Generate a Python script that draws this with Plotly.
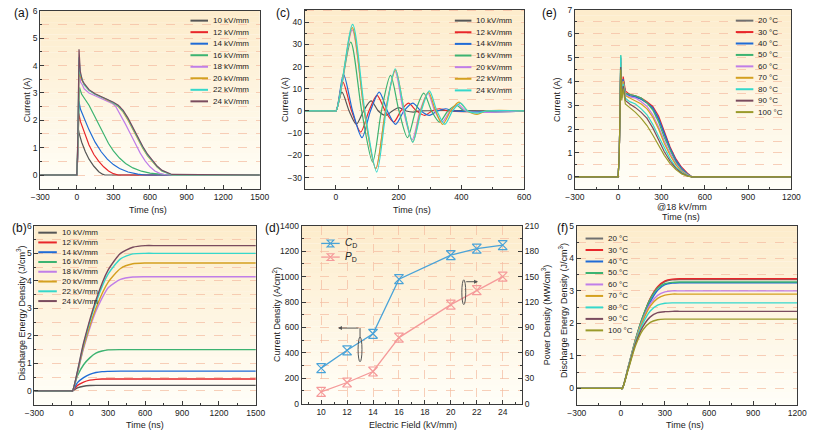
import plotly.graph_objects as go

W, H = 817, 437

# ---------------- DATA ----------------
field_names = ["10 kV/mm", "12 kV/mm", "14 kV/mm", "16 kV/mm", "18 kV/mm", "20 kV/mm", "22 kV/mm", "24 kV/mm"]
field_colors = ["#555555", "#e8262a", "#1f6bd6", "#3cb371", "#c07ee8", "#d4a020", "#35d8cb", "#7a4b5e"]

# (a) discharge current vs time
ta10 = [-300, 0, 5, 12, 20, 40, 70, 100, 140, 180, 210, 230, 1500]
ia10 = [0, 0, 0.4, 1.7, 1.5, 1.2, 0.85, 0.58, 0.32, 0.12, 0.03, 0, 0]
ta12 = [-300, 0, 6, 16, 30, 60, 100, 140, 180, 220, 260, 300, 340, 1500]
ia12 = [0, 0, 0.5, 2.25, 1.95, 1.55, 1.1, 0.75, 0.5, 0.3, 0.15, 0.05, 0, 0]
ta14 = [-300, 0, 6, 17, 30, 60, 100, 150, 200, 250, 300, 350, 420, 500, 560, 1500]
ia14 = [0, 0, 0.6, 2.7, 2.4, 2.05, 1.65, 1.2, 0.85, 0.58, 0.38, 0.24, 0.11, 0.03, 0, 0]
ta16 = [-300, 0, 8, 22, 40, 70, 100, 140, 180, 220, 260, 300, 350, 400, 460, 530, 600, 680, 760, 1500]
ia16 = [0, 0, 0.8, 3.2, 2.95, 2.75, 2.55, 2.2, 1.85, 1.5, 1.15, 0.88, 0.62, 0.42, 0.26, 0.14, 0.07, 0.03, 0, 0]
ta18 = [-300, 0, 8, 20, 30, 45, 60, 100, 150, 200, 250, 290, 320, 360, 400, 440, 480, 520, 560, 600, 640, 680, 720, 760, 1500]
ia18 = [0, 0, 1.0, 4.2, 3.4, 3.3, 3.15, 3.0, 2.9, 2.8, 2.72, 2.62, 2.5, 2.2, 1.85, 1.5, 1.15, 0.8, 0.52, 0.3, 0.15, 0.06, 0.02, 0, 0]
ta2x = [-300, 0, 8, 18, 28, 45, 60, 100, 150, 200, 250, 300, 340, 380, 420, 460, 500, 540, 580, 620, 660, 700, 740, 780, 1500]
ia20 = [0, 0, 1.1, 3.8, 3.6, 3.4, 3.3, 3.1, 2.95, 2.85, 2.75, 2.62, 2.5, 2.3, 2.0, 1.65, 1.3, 0.98, 0.7, 0.47, 0.28, 0.14, 0.06, 0, 0]
ia22 = [0, 0, 1.2, 4.3, 3.7, 3.45, 3.3, 3.1, 2.95, 2.85, 2.76, 2.63, 2.52, 2.33, 2.05, 1.7, 1.35, 1.02, 0.73, 0.5, 0.3, 0.15, 0.07, 0, 0]
ia24 = [0, 0, 1.3, 4.6, 3.8, 3.45, 3.35, 3.12, 2.97, 2.87, 2.78, 2.66, 2.55, 2.36, 2.08, 1.73, 1.38, 1.05, 0.76, 0.52, 0.32, 0.17, 0.08, 0.02, 0]

# (b) discharge energy density vs time
tb_low = [-300, 0, 10, 50, 100, 150, 200, 250, 300, 400, 1500]
eb10 = [0, 0, 0, 0.11, 0.17, 0.195, 0.2, 0.2, 0.2, 0.2, 0.2]
eb12 = [0, 0, 0, 0.2, 0.32, 0.39, 0.42, 0.43, 0.43, 0.43, 0.43]
eb14 = [0, 0, 0, 0.3, 0.48, 0.6, 0.67, 0.7, 0.71, 0.72, 0.72]
eb16 = [0, 0, 0, 0.55, 0.95, 1.2, 1.37, 1.45, 1.49, 1.5, 1.5]
tb_high = [-300, 0, 10, 100, 200, 300, 400, 500, 600, 700, 1500]
eb18 = [0, 0, 0, 1.55, 2.9, 3.75, 4.05, 4.14, 4.15, 4.15, 4.15]
eb20 = [0, 0, 0, 1.6, 3.0, 3.95, 4.45, 4.62, 4.65, 4.65, 4.65]
eb22 = [0, 0, 0, 1.7, 3.2, 4.25, 4.8, 4.98, 5.0, 5.0, 5.0]
eb24 = [0, 0, 0, 1.75, 3.3, 4.4, 5.0, 5.22, 5.28, 5.28, 5.28]

# (c) oscillating discharge current (18 kV/mm not shown)
c_names = ["10 kV/mm", "12 kV/mm", "14 kV/mm", "16 kV/mm", "20 kV/mm", "22 kV/mm", "24 kV/mm"]
c_colors = ["#555555", "#e8262a", "#1f6bd6", "#3cb371", "#c07ee8", "#d4a020", "#35d8cb"]
tc10 = [-100, -10, 0, 19, 42, 65, 88, 112, 135, 158, 180, 200, 224, 247, 270, 600]
ic10 = [0, 0, 0, 8.5, 0, -6, 0, 4.5, 0, -2, 0, 1.5, 0, -0.5, 0, 0]
tc12 = [-100, -10, 0, 22, 50, 79, 105, 131, 157, 184, 207, 231, 257, 283, 306, 330, 355, 600]
ic12 = [0, 0, 0, 13, 0, -9.5, 0, 7, 0, -5, 0, 3.5, 0, -2, 0, 1, 0, 0]
tc14 = [-100, -10, 0, 24, 53, 83, 110, 138, 164, 190, 217, 245, 271, 298, 324, 350, 375, 600]
ic14 = [0, 0, 0, 16.5, 0, -12, 0, 8.5, 0, -6, 0, 3.5, 0, -2, 0, 1, 0, 0]
tc16 = [-100, -10, 0, 47, 82, 117, 145, 174, 201, 228, 254, 280, 305, 330, 357, 385, 410, 600]
ic16 = [0, 0, 0, 31, 0, -23, 0, 16, 0, -12, 0, 8, 0, -5, 0, 2.5, 0, 0]
tc20 = [-100, -10, 0, 52, 90, 127, 158, 188, 215, 243, 268, 293, 315, 338, 364, 390, 415, 600]
ic20 = [0, 0, 0, 36.5, 0, -26, 0, 18, 0, -13, 0, 8, 0, -5, 0, 3, 0, 0]
tc22 = [-100, -10, 0, 52, 90, 127, 158, 190, 218, 245, 270, 295, 318, 340, 366, 392, 420, 450, 480, 600]
ic22 = [0, 0, 0, 37.5, 0, -26, 0, 18.5, 0, -14, 0, 8.5, 0, -6, 0, 4, 0, -1.5, 0, 0]
tc24 = [-100, -10, 0, 53, 92, 130, 160, 189, 218, 245, 272, 298, 322, 347, 372, 397, 420, 450, 480, 600]
ic24 = [0, 0, 0, 39, 0, -27.5, 0, 19, 0, -14, 0, 9, 0, -6, 0, 3.5, 0, -1, 0, 0]

# (d) current density and power density vs electric field
field_kv = [10, 12, 14, 16, 20, 22, 24]
current_density = [280, 420, 550, 980, 1170, 1220, 1248]
power_density = [14, 25, 38, 78, 117, 134, 150]

# (e) discharge current at 18 kV/mm for different temperatures
temp_names = ["20 \u00b0C", "30 \u00b0C", "40 \u00b0C", "50 \u00b0C", "60 \u00b0C", "70 \u00b0C", "80 \u00b0C", "90 \u00b0C", "100 \u00b0C"]
temp_colors = ["#707070", "#e8262a", "#1f6bd6", "#3cb371", "#c07ee8", "#d4a020", "#35d8cb", "#7a4b5e", "#9a9a2a"]
te = [-300, 0, 8, 18, 25, 35, 50, 80, 120, 160, 200, 240, 280, 320, 360, 400, 440, 480, 510, 1200]
ie20 = [0, 0, 1.0, 5.0, 3.6, 4.1, 3.5, 3.4, 3.35, 3.25, 3.1, 2.85, 2.4, 1.75, 1.15, 0.65, 0.3, 0.1, 0, 0]
ie30 = [0, 0, 1.0, 4.8, 3.5, 4.2, 3.6, 3.45, 3.4, 3.3, 3.15, 2.95, 2.55, 1.9, 1.25, 0.75, 0.4, 0.15, 0, 0]
ie40 = [0, 0, 1.0, 4.7, 3.5, 4.1, 3.5, 3.4, 3.35, 3.25, 3.1, 2.9, 2.45, 1.8, 1.2, 0.7, 0.35, 0.12, 0, 0]
ie50 = [0, 0, 1.0, 5.1, 3.6, 4.0, 3.5, 3.45, 3.4, 3.3, 3.1, 2.8, 2.3, 1.65, 1.1, 0.6, 0.3, 0.1, 0, 0]
ie60 = [0, 0, 1.0, 4.9, 3.5, 4.0, 3.45, 3.35, 3.3, 3.15, 2.95, 2.6, 2.1, 1.5, 1.0, 0.55, 0.25, 0.08, 0, 0]
ie70 = [0, 0, 1.0, 4.8, 3.4, 4.0, 3.4, 3.3, 3.2, 3.05, 2.85, 2.5, 2.0, 1.4, 0.9, 0.5, 0.22, 0.06, 0, 0]
ie80 = [0, 0, 1.0, 5.1, 3.4, 3.9, 3.3, 3.15, 3.05, 2.85, 2.6, 2.2, 1.7, 1.2, 0.75, 0.4, 0.18, 0.05, 0, 0]
ie90 = [0, 0, 1.0, 4.6, 3.3, 3.8, 3.2, 3.05, 2.9, 2.7, 2.45, 2.05, 1.55, 1.05, 0.65, 0.35, 0.15, 0.04, 0, 0]
ie100 = [0, 0, 1.0, 4.5, 3.2, 3.7, 3.05, 2.9, 2.7, 2.45, 2.15, 1.75, 1.3, 0.9, 0.55, 0.3, 0.12, 0.03, 0, 0]

# (f) discharge energy density for different temperatures
tf = [-300, 0, 10, 50, 100, 150, 200, 250, 300, 350, 400, 500, 1200]
ef20 = [0, 0, 0, 0.65, 1.5, 2.2, 2.75, 3.1, 3.28, 3.34, 3.35, 3.35, 3.35]
ef30 = [0, 0, 0, 0.65, 1.5, 2.2, 2.77, 3.13, 3.31, 3.36, 3.37, 3.37, 3.37]
ef40 = [0, 0, 0, 0.63, 1.45, 2.12, 2.66, 3.02, 3.19, 3.24, 3.25, 3.25, 3.25]
ef50 = [0, 0, 0, 0.66, 1.52, 2.22, 2.75, 3.08, 3.22, 3.26, 3.27, 3.27, 3.27]
ef60 = [0, 0, 0, 0.64, 1.47, 2.12, 2.6, 2.86, 2.97, 3.0, 3.0, 3.0, 3.0]
ef70 = [0, 0, 0, 0.63, 1.45, 2.08, 2.53, 2.77, 2.87, 2.9, 2.9, 2.9, 2.9]
ef80 = [0, 0, 0, 0.62, 1.42, 2.0, 2.38, 2.56, 2.62, 2.63, 2.63, 2.63, 2.63]
ef90 = [0, 0, 0, 0.6, 1.38, 1.9, 2.2, 2.33, 2.36, 2.37, 2.37, 2.37, 2.37]
ef100 = [0, 0, 0, 0.58, 1.32, 1.8, 2.03, 2.11, 2.13, 2.13, 2.13, 2.13, 2.13]

# ---------------- FIGURE ----------------
FONT = "Arial, Liberation Sans, sans-serif"
AXC = "#3a3a3a"
TXT = "#222222"
GRIDC = "rgba(244,186,160,0.7)"
TICKSZ = 8.5
TITLESZ = 9
LEGSZ = 8

def px(x):
    return x / W

def py(y):
    return 1 - y / H

fig = go.Figure()

def line(x, y, color, xa, ya, shape="linear", width=1.2, smoothing=0.6):
    fig.add_trace(go.Scatter(x=x, y=y, mode="lines", xaxis=xa, yaxis=ya, showlegend=False,
                             line=dict(color=color, width=width, shape=shape, smoothing=smoothing)))

# (a)
for (t, i), c in zip([(ta10, ia10), (ta12, ia12), (ta14, ia14), (ta16, ia16), (ta18, ia18),
                      (ta2x, ia20), (ta2x, ia22), (ta2x, ia24)], field_colors):
    line(t, i, c, "x", "y")
# (b)
for (t, e), c in zip([(tb_low, eb10), (tb_low, eb12), (tb_low, eb14), (tb_low, eb16), (tb_high, eb18),
                      (tb_high, eb20), (tb_high, eb22), (tb_high, eb24)], field_colors):
    line(t, e, c, "x2", "y2", shape="spline", width=1.4)
# (c)
for (t, i), c in zip([(tc10, ic10), (tc12, ic12), (tc14, ic14), (tc16, ic16), (tc20, ic20),
                      (tc22, ic22), (tc24, ic24)], c_colors):
    line(t, i, c, "x3", "y3", shape="spline", width=1.2, smoothing=0.8)
# (d)
fig.add_trace(go.Scatter(x=field_kv, y=current_density, mode="lines+markers", xaxis="x4", yaxis="y4",
                         showlegend=False, line=dict(color="#4aa3d8", width=1.3),
                         marker=dict(symbol="hourglass-open", size=9, color="#4aa3d8", line=dict(width=1.2))))
fig.add_trace(go.Scatter(x=field_kv, y=power_density, mode="lines+markers", xaxis="x4", yaxis="y7",
                         showlegend=False, line=dict(color="#f59a9a", width=1.3),
                         marker=dict(symbol="hourglass-open", size=9, color="#f59a9a", line=dict(width=1.2))))
# (e)
for i, c in zip([ie20, ie30, ie40, ie50, ie60, ie70, ie80, ie90, ie100], temp_colors):
    line(te, i, c, "x5", "y5")
# (f)
for e, c in zip([ef20, ef30, ef40, ef50, ef60, ef70, ef80, ef90, ef100], temp_colors):
    line(tf, e, c, "x6", "y6", shape="spline", width=1.4)

# ---------------- AXES ----------------
def xax(dom, rng, dtick, minor, anchor, tick0=None):
    d = dict(domain=[px(dom[0]), px(dom[1])], range=rng, dtick=dtick, anchor=anchor,
             showline=True, linecolor=AXC, linewidth=1, mirror=True, ticks="inside", ticklen=4,
             tickcolor=AXC, tickfont=dict(size=TICKSZ, color=TXT, family=FONT), zeroline=False,
             showgrid=False, minor=dict(dtick=minor, ticks="inside", ticklen=2, tickcolor=AXC))
    if tick0 is not None:
        d["tick0"] = tick0
        d["minor"]["tick0"] = tick0
    return d

def yax(dom, rng, dtick, minor, anchor, mirror=True, grid=True):
    return dict(domain=[py(dom[1]), py(dom[0])], range=rng, dtick=dtick, anchor=anchor,
                showline=True, linecolor=AXC, linewidth=1, mirror=mirror, ticks="inside", ticklen=4,
                tickcolor=AXC, tickfont=dict(size=TICKSZ, color=TXT, family=FONT), zeroline=False,
                showgrid=grid, gridcolor=GRIDC, griddash="dash", gridwidth=0.8,
                minor=dict(dtick=minor, ticks="inside", ticklen=2, tickcolor=AXC,
                           showgrid=grid, gridcolor=GRIDC, griddash="dash", gridwidth=0.8))

dom = {
    "a": ((31, 256), (6, 188)),
    "b": ((25, 252), (226, 409)),
    "c": ((302, 527), (5, 188)),
    "d": ((299, 525), (226, 408)),
    "e": ((579, 801), (5, 188)),
    "f": ((581, 807), (226, 409)),
}

fig.update_layout(
    xaxis=xax(dom["a"][0], [-300, 1500], 300, 150, "y"),
    yaxis=yax(dom["a"][1], [-0.5, 6], 1, 0.5, "x"),
    xaxis2=xax(dom["b"][0], [-300, 1500], 300, 150, "y2"),
    yaxis2=yax(dom["b"][1], [-0.5, 6], 1, 0.5, "x2"),
    xaxis3=xax(dom["c"][0], [-100, 600], 200, 100, "y3"),
    yaxis3=yax(dom["c"][1], [-35, 45.5], 10, 5, "x3"),
    xaxis4=xax(dom["d"][0], [8.5, 25.5], 2, 1, "y4", tick0=10),
    yaxis4=yax(dom["d"][1], [0, 1400], 200, 100, "x4", mirror=False),
    yaxis7=dict(overlaying="y4", side="right", anchor="x4", range=[0, 210], dtick=30,
                showline=True, linecolor=AXC, linewidth=1, ticks="inside", ticklen=4, tickcolor=AXC,
                tickfont=dict(size=TICKSZ, color=TXT, family=FONT), zeroline=False, showgrid=False,
                minor=dict(dtick=15, ticks="inside", ticklen=2, tickcolor=AXC)),
    xaxis5=xax(dom["e"][0], [-300, 1200], 300, 150, "y5"),
    yaxis5=yax(dom["e"][1], [-0.5, 7], 1, 0.5, "x5"),
    xaxis6=xax(dom["f"][0], [-300, 1200], 300, 150, "y6"),
    yaxis6=yax(dom["f"][1], [-0.5, 5], 1, 0.5, "x6"),
)
fig.layout.xaxis4.update(showgrid=True, gridcolor=GRIDC, griddash="dash", gridwidth=0.8)

# ---------------- BACKGROUND GRADIENT ----------------
top = (253, 236, 204)
bot = (255, 254, 247)
N = 30
shapes = []
for xa, ya in [("x", "y"), ("x2", "y2"), ("x3", "y3"), ("x4", "y4"), ("x5", "y5"), ("x6", "y6")]:
    for k in range(N):
        f = k / (N - 1)
        col = "rgb(%d,%d,%d)" % tuple(round(top[j] + (bot[j] - top[j]) * f) for j in range(3))
        shapes.append(dict(type="rect", xref=xa + " domain", yref=ya + " domain",
                           x0=0, x1=1, y0=1 - (k + 1) / N, y1=1 - k / N + 0.001,
                           fillcolor=col, line=dict(width=0), layer="below"))

annotations = []

def text(t, x, y, size=TITLESZ, angle=0, xanchor="center"):
    annotations.append(dict(text=t, xref="paper", yref="paper", x=px(x), y=py(y), xanchor=xanchor,
                            yanchor="middle", showarrow=False, textangle=angle,
                            font=dict(size=size, color=TXT, family=FONT)))

# axis titles
text("Time (ns)", 141, 210)
text("Current (A)", 17, 97, angle=-90)
text("Time (ns)", 138, 430)
text("Discharge Energy Density (J/cm<sup>3</sup>)", 11, 315, angle=-90)
text("Time (ns)", 412, 210)
text("Current (A)", 282, 97, angle=-90)
text("Electric Field (kV/mm)", 413, 430)
text("Current Density (A/cm<sup>2</sup>)", 273, 317, angle=-90)
text("Power Density (MW/cm<sup>3</sup>)", 549, 317, angle=-90)
text("@18 kV/mm", 689, 206.5)
text("Time (ns)", 688, 217)
text("Current (A)", 561, 97, angle=-90)
text("Time (ns)", 692, 430)
text("Discharge Energy Density (J/cm<sup>3</sup>)", 567, 313, angle=-90)

# ---------------- CUSTOM LEGENDS ----------------
def legend(names, colors, xl0, xl1, xt, y0, dy, lw=2.0):
    for k, (n, c) in enumerate(zip(names, colors)):
        yy = y0 + k * dy
        shapes.append(dict(type="line", xref="paper", yref="paper", x0=px(xl0), x1=px(xl1),
                           y0=py(yy), y1=py(yy), line=dict(color=c, width=lw)))
        text(n, xt, yy, size=LEGSZ, xanchor="left")

legend(field_names, field_colors, 185, 203, 206, 16, 11.8)
legend(field_names, field_colors, 29, 48, 51, 233, 10.0)
legend(c_names, c_colors, 456, 473, 476, 16, 11.9)
legend(temp_names, temp_colors, 744, 762, 765, 16, 11.7)
legend(temp_names, temp_colors, 590, 608, 611, 239, 11.75)

# (d) legend with hourglass markers
for k, (n, c) in enumerate([("<i>C</i><sub>D</sub>", "#4aa3d8"), ("<i>P</i><sub>D</sub>", "#f59a9a")]):
    yy = 244 + k * 14
    shapes.append(dict(type="line", xref="paper", yref="paper", x0=px(319), x1=px(338),
                       y0=py(yy), y1=py(yy), line=dict(color=c, width=1.3)))
    s = 3.5
    cx = 328.5
    path = "M %f %f L %f %f L %f %f L %f %f Z" % (px(cx - s), py(yy - s), px(cx + s), py(yy - s),
                                                  px(cx - s), py(yy + s), px(cx + s), py(yy + s))
    shapes.append(dict(type="path", xref="paper", yref="paper", path=path, line=dict(color=c, width=1.1)))
    text(n, 341, yy, size=10, xanchor="left")

# (d) ellipses and arrows
shapes.append(dict(type="circle", xref="x4", yref="y4", x0=12.85, x1=13.15, y0=330, y1=525,
                   line=dict(color="#555", width=1)))
shapes.append(dict(type="line", xref="x4", yref="y4", x0=13.0, x1=13.0, y0=525, y1=595,
                   line=dict(color="#555", width=1)))
annotations.append(dict(x=11.3, y=595, ax=13.0, ay=595, xref="x4", yref="y4", axref="x4", ayref="y4",
                        text="", showarrow=True, arrowhead=2, arrowsize=0.8, arrowwidth=1, arrowcolor="#555"))
shapes.append(dict(type="circle", xref="x4", yref="y4", x0=20.85, x1=21.15, y0=780, y1=975,
                   line=dict(color="#555", width=1)))
annotations.append(dict(x=22.1, y=960, ax=21.07, ay=960, xref="x4", yref="y4", axref="x4", ayref="y4",
                        text="", showarrow=True, arrowhead=2, arrowsize=0.8, arrowwidth=1, arrowcolor="#555"))

# panel labels
for lab, x, y in [("(a)", 2, 8), ("(b)", 0, 228), ("(c)", 271, 8), ("(d)", 259, 228), ("(e)", 543, 8), ("(f)", 559, 228)]:
    annotations.append(dict(text=lab, xref="paper", yref="paper", x=px(x), y=py(y), xanchor="left",
                            yanchor="middle", showarrow=False, font=dict(size=12, color="#111", family=FONT)))

fig.update_layout(width=W, height=H, margin=dict(l=0, r=0, t=0, b=0), paper_bgcolor="white",
                  plot_bgcolor="rgba(0,0,0,0)", showlegend=False, shapes=shapes, annotations=annotations,
                  font=dict(family=FONT))

fig.write_html("out.html")
